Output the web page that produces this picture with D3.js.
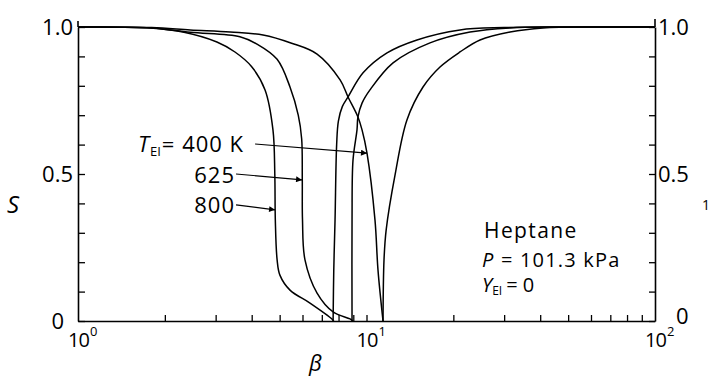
<!DOCTYPE html>
<html>
<head>
<meta charset="utf-8">
<script src="https://cdn.jsdelivr.net/npm/d3@7/dist/d3.min.js"></script>
<style>
  html, body { margin: 0; padding: 0; background: #fff; }
  svg { display: block; }
  text { font-family: "Open Sans", "DejaVu Sans", sans-serif; font-weight: 400; fill: #000; }
</style>
</head>
<body>
<svg id="chart" width="709" height="379"></svg>
<script>
// Droplet curves: S versus beta, each series as [beta, S] pairs
const fallT400 = [[1, 1], [1.8, 0.998], [2.45, 0.99], [3.37, 0.983], [4.38, 0.973], [5.5, 0.945], [6.74, 0.908],
  [8.1, 0.82], [8.63, 0.762], [9.34, 0.694], [9.65, 0.65], [10.04, 0.571], [10.7, 0.344], [10.96, 0.174], [11.41, 0]];
const fallT625 = [[1, 1], [1.8, 0.997], [2.45, 0.982], [3.64, 0.967], [4.17, 0.942], [4.9, 0.89], [5.43, 0.796],
  [5.8, 0.7], [5.96, 0.62], [5.99, 0.48], [6.0, 0.344], [6.12, 0.208], [6.74, 0.095], [7.66, 0.031], [8.77, 0.007], [8.98, 0]];
const fallT800 = [[1, 1], [1.78, 0.997], [2.31, 0.983], [3.03, 0.949], [3.5, 0.915], [4.0, 0.865], [4.45, 0.786],
  [4.74, 0.65], [4.81, 0.5], [4.83, 0.344], [4.9, 0.208], [5.01, 0.156], [5.43, 0.105], [6.37, 0.061], [7.59, 0.007], [7.7, 0]];
const riseA = [[7.66, 0], [7.7, 0.17], [7.78, 0.344], [7.88, 0.6], [7.99, 0.68], [8.25, 0.73], [8.63, 0.762], [9.73, 0.844],
  [11.78, 0.912], [14.96, 0.956], [21.09, 0.99], [30, 0.998], [45, 1], [100, 1]];
const riseB = [[8.91, 0], [8.91, 0.344], [8.98, 0.548], [9.27, 0.65], [9.34, 0.694], [9.65, 0.741], [10.28, 0.786], [12.36, 0.878],
  [16.6, 0.946], [22.85, 0.983], [31.4, 0.997], [47, 1], [100, 1]];
const riseC = [[11.41, 0], [11.5, 0.208], [11.7, 0.31], [12.56, 0.497], [13.81, 0.684], [15.7, 0.796], [17.98, 0.864],
  [21.09, 0.915], [24.74, 0.956], [31.44, 0.983], [40.9, 0.997], [64.5, 1], [100, 1]];
const seriesList = [fallT400, fallT625, fallT800, riseA, riseB, riseC];

// Axis ticks and labels
const yTicks = d3.range(0, 11).map(i => i / 10);
const yTickLabels = [[0, "0"], [0.5, "0.5"], [1, "1.0"]];
const xMinorTicks = [2, 3, 4, 5, 6, 7, 8, 9, 10, 20, 30, 40, 50, 60, 70, 80, 90];
const xTickLabels = [[1, "10", "0"], [10, "10", "1"], [100, "10", "2"]];

// Annotations: temperature labels with arrows to their curves (data space)
const tempArrows = [
  { label: "400", from: [4.11, 0.602], to: [10.04, 0.571] },
  { label: "625", from: [3.53, 0.5], to: [5.98, 0.48] },
  { label: "800", from: [3.53, 0.395], to: [4.82, 0.378] }
];
const conditions = ["Heptane", "P", "Y"];

const svg = d3.select("#chart");
const x = d3.scaleLog().domain([1, 100]).range([78, 655]);
const y = d3.scaleLinear().domain([0, 1]).range([321, 27]);

// Left axis, ticks pointing inward
const left = svg.append("g").attr("transform", `translate(${x(1)},0)`)
  .call(d3.axisLeft(y).tickValues(yTicks).tickSize(-7).tickSizeOuter(0).tickFormat(""));
// Right axis, ticks pointing inward
const right = svg.append("g").attr("transform", `translate(${x(100)},0)`)
  .call(d3.axisRight(y).tickValues(yTicks).tickSize(-6).tickSizeOuter(0).tickFormat(""));
// Bottom axis, ticks pointing up
const bottom = svg.append("g").attr("transform", `translate(0,${y(0)})`)
  .call(d3.axisBottom(x).tickValues(xMinorTicks).tickSize(-6).tickSizeOuter(0).tickFormat(""));
[left, right, bottom].forEach(g => {
  g.selectAll("path.domain").attr("stroke", "#000").attr("stroke-width", 1.6);
  g.selectAll(".tick line").attr("stroke", "#000").attr("stroke-width", 1.3);
});
// short extension of the vertical axes above 1.0
svg.append("line").attr("x1", x(1)).attr("x2", x(1)).attr("y1", y(1) - 6).attr("y2", y(1)).attr("stroke", "#000").attr("stroke-width", 1.6);
svg.append("line").attr("x1", x(100)).attr("x2", x(100)).attr("y1", y(1) - 8).attr("y2", y(1)).attr("stroke", "#000").attr("stroke-width", 1.6);

// Curves
const line = d3.line().x(d => x(d[0])).y(d => y(d[1])).curve(d3.curveCatmullRom.alpha(0.5));
svg.append("g").selectAll("path").data(seriesList).join("path")
  .attr("d", line).attr("fill", "none").attr("stroke", "#000").attr("stroke-width", 1.5);

// Y tick labels, left and right
svg.append("g").selectAll("text").data(yTickLabels).join("text")
  .attr("x", d => d[0] === 0 ? x(1) - 14 : x(1) - 5)
  .attr("y", d => y(d[0]) + 8)
  .attr("text-anchor", "end").attr("font-size", 22).text(d => d[1]);
svg.append("g").selectAll("text").data(yTickLabels).join("text")
  .attr("x", d => d[0] === 0 ? x(100) + 21 : x(100) + 3)
  .attr("y", d => d[0] === 0 ? y(d[0]) + 3 : y(d[0]) + 8)
  .attr("text-anchor", "start").attr("font-size", 22).text(d => d[1]);

// X tick labels as powers of ten
const xl = svg.append("g").selectAll("text").data(xTickLabels).join("text")
  .attr("x", d => x(d[0]) - 10).attr("y", y(0) + 26).attr("font-size", 20).attr("letter-spacing", -1);
xl.append("tspan").text(d => d[1]);
xl.append("tspan").attr("font-size", 13).attr("dy", -11).attr("dx", 1).text(d => d[2]);

// Axis titles
svg.append("text").attr("x", 7).attr("y", 213).attr("font-size", 24).attr("font-style", "italic").text("S");
svg.append("text").attr("x", 309).attr("y", 371).attr("font-size", 22).attr("font-style", "italic").text("β");
svg.append("text").attr("x", 702).attr("y", 210).attr("font-size", 14).text("1");

// Arrow marker
svg.append("defs").append("marker").attr("id", "head")
  .attr("viewBox", "0 0 10 10").attr("refX", 10).attr("refY", 5)
  .attr("markerWidth", 9).attr("markerHeight", 6).attr("markerUnits", "userSpaceOnUse")
  .attr("orient", "auto")
  .append("path").attr("d", "M0,0L10,5L0,10Z").attr("fill", "#000");

svg.append("g").selectAll("line").data(tempArrows).join("line")
  .attr("x1", d => x(d.from[0])).attr("y1", d => y(d.from[1]))
  .attr("x2", d => x(d.to[0])).attr("y2", d => y(d.to[1]))
  .attr("stroke", "#000").attr("stroke-width", 1.1).attr("marker-end", "url(#head)");

// Temperature labels
const tl = svg.append("text").attr("x", 138).attr("y", 152).attr("font-size", 22).attr("letter-spacing", 1);
tl.append("tspan").attr("font-style", "italic").text("T");
tl.append("tspan").attr("font-size", 13).attr("dy", 4).attr("dx", 0).attr("letter-spacing", 0).text("EI");
tl.append("tspan").attr("dy", -4).attr("dx", 1).text("= " + tempArrows[0].label + " K");
svg.append("g").selectAll("text").data(tempArrows.slice(1)).join("text")
  .attr("x", 235).attr("y", (d, i) => i === 0 ? 183 : 213)
  .attr("text-anchor", "end").attr("font-size", 22).attr("letter-spacing", 1).text(d => d.label);

// Conditions block
svg.append("text").attr("x", 484).attr("y", 238).attr("font-size", 21).attr("letter-spacing", 1.4).text(conditions[0]);
const pl = svg.append("text").attr("x", 482).attr("y", 267).attr("font-size", 20).attr("letter-spacing", 1.2);
pl.append("tspan").attr("font-style", "italic").text(conditions[1]);
pl.append("tspan").text(" = 101.3 kPa");
const yl = svg.append("text").attr("x", 482).attr("y", 292).attr("font-size", 20);
yl.append("tspan").attr("font-style", "italic").text(conditions[2]);
yl.append("tspan").attr("font-size", 12).attr("dy", 3).text("EI");
yl.append("tspan").attr("dy", -3).attr("dx", 4).text("= 0");
</script>
</body>
</html>
